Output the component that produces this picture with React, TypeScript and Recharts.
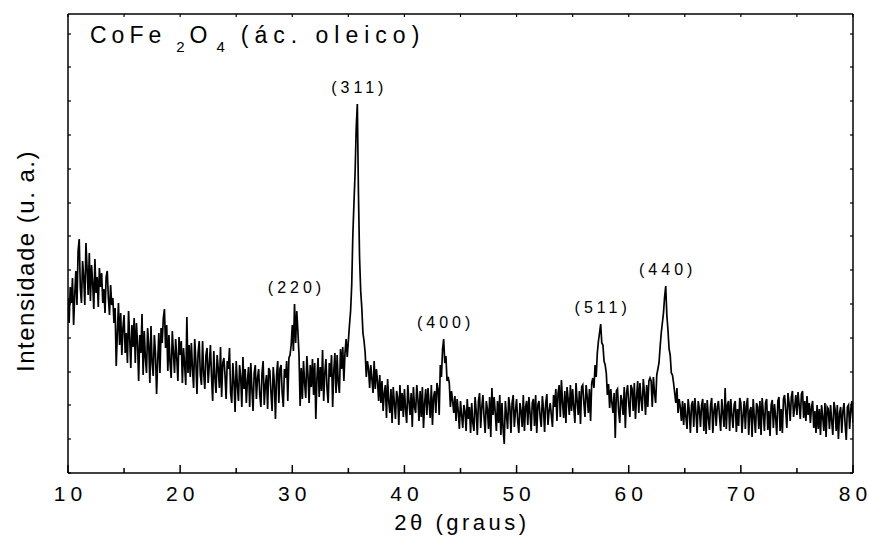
import React from 'react';
import { LineChart, Line, XAxis, YAxis, ReferenceDot } from 'recharts';

// diffractogram, 2θ = 10.0 ... 80.0 step 0.1, intensity in a.u.
const counts10 = [
  175, 150, 186, 170, 195, 148, 178, 202, 168, 222,
  234, 185, 170, 212, 196, 168, 230, 205, 178, 220,
  172, 208, 190, 164, 214, 180, 196, 166, 205, 186,
  200, 170, 184, 160, 196, 202, 175, 158, 188, 168,
  175, 150, 165, 107, 140, 170, 128, 160, 118, 145,
  158, 120, 140, 110, 162, 135, 105, 148, 126, 155,
  110, 150, 130, 92, 138, 120, 159, 98, 142, 115,
  100, 145, 128, 90, 147, 110, 97, 138, 120, 79,
  112, 140, 100, 145, 130, 155, 164, 125, 148, 102,
  138, 110, 95, 142, 120, 100, 134, 115, 92, 136,
];
const counts20 = [
  118, 132, 90, 125, 108, 88, 156, 100, 128, 96,
  130, 104, 85, 134, 112, 79, 120, 132, 98, 88,
  132, 100, 84, 118, 125, 90, 108, 128, 96, 72,
  122, 95, 80, 118, 104, 85, 126, 76, 110, 115,
  98, 74, 112, 104, 125, 80, 70, 110, 92, 61,
  112, 88, 72, 108, 96, 66, 116, 84, 104, 70,
  92, 106, 66, 110, 84, 62, 100, 108, 74, 95,
  104, 78, 66, 100, 112, 68, 88, 98, 64, 105,
  102, 80, 62, 106, 90, 54, 98, 112, 70, 104,
  108, 80, 66, 104, 95, 112, 72, 115, 118, 128,
];
const counts30 = [
  148, 122, 169, 130, 162, 142, 118, 67, 105, 74,
  112, 90, 75, 117, 98, 70, 108, 86, 114, 78,
  110, 54, 95, 115, 76, 106, 82, 123, 72, 100,
  114, 84, 70, 110, 96, 118, 66, 102, 120, 80,
  118, 90, 80, 124, 104, 126, 92, 120, 134, 116,
  132, 148, 162, 188, 238, 270, 300, 345, 369, 280,
  215, 182, 165, 140, 132, 120, 96, 112, 104, 85,
  108, 94, 80, 112, 84, 104, 92, 72, 98, 70,
  92, 62, 80, 88, 55, 94, 72, 60, 84, 50,
  86, 70, 54, 82, 76, 48, 88, 62, 80, 56,
];
const counts40 = [
  84, 64, 50, 88, 72, 58, 80, 46, 86, 66,
  60, 88, 74, 52, 82, 56, 86, 45, 70, 84,
  58, 85, 70, 55, 88, 48, 76, 82, 60, 90,
  84, 58, 108, 96, 124, 134, 110, 117, 92, 96,
  90, 66, 82, 72, 60, 77, 52, 74, 62, 44,
  72, 58, 45, 68, 62, 42, 74, 54, 66, 40,
  70, 50, 42, 76, 62, 38, 72, 80, 45, 66,
  78, 56, 40, 72, 64, 44, 76, 36, 85, 58,
  76, 60, 42, 72, 50, 78, 38, 70, 44, 29,
  72, 58, 44, 76, 66, 40, 70, 78, 46, 62,
];
const counts50 = [
  74, 52, 40, 70, 62, 46, 78, 42, 66, 72,
  48, 76, 60, 42, 70, 74, 47, 78, 40, 68,
  72, 56, 46, 77, 64, 41, 70, 79, 48, 62,
  70, 58, 46, 78, 66, 84, 52, 80, 88, 56,
  93, 70, 55, 82, 50, 86, 74, 58, 88, 62,
  84, 66, 50, 90, 72, 58, 82, 49, 86, 88,
  70, 56, 88, 76, 60, 84, 52, 90, 95, 85,
  108, 96, 120, 132, 140, 149, 130, 128, 112, 108,
  100, 78, 89, 65, 84, 70, 60, 80, 35, 82,
  84, 62, 50, 78, 72, 58, 86, 45, 80, 88,
];
const counts60 = [
  70, 56, 88, 84, 62, 90, 54, 76, 92, 60,
  90, 74, 62, 94, 80, 58, 88, 66, 92, 95,
  92, 66, 96, 80, 70, 98, 104, 110, 126, 140,
  150, 160, 176, 187, 158, 143, 124, 118, 100, 98,
  90, 80, 70, 85, 60, 74, 66, 52, 72, 48,
  70, 56, 44, 74, 62, 40, 68, 72, 46, 75,
  60, 40, 72, 64, 46, 68, 74, 42, 70, 39,
  73, 55, 43, 68, 75, 40, 62, 70, 47, 66,
  72, 56, 42, 74, 60, 46, 85, 44, 68, 72,
  42, 74, 58, 45, 68, 72, 41, 64, 47, 75,
];
const counts70 = [
  70, 40, 58, 72, 44, 68, 75, 38, 62, 66,
  36, 74, 56, 40, 70, 66, 44, 72, 38, 75,
  60, 42, 70, 74, 43, 62, 37, 68, 73, 45,
  69, 56, 38, 72, 76, 42, 64, 40, 74, 78,
  62, 45, 80, 70, 52, 76, 82, 56, 66, 78,
  58, 81, 68, 54, 79, 82, 55, 72, 52, 77,
  58, 70, 50, 66, 72, 45, 62, 40, 68, 44,
  64, 38, 68, 56, 42, 70, 36, 66, 64, 44,
  68, 52, 38, 71, 64, 42, 68, 34, 60, 66,
  40, 62, 70, 48, 33, 66, 68, 44, 64, 72,
  50,
];

const START = 10;
const STEP = 0.1;

const xTicks = [10, 15, 20, 25, 30, 35, 40, 45, 50, 55, 60, 65, 70, 75, 80];
const yTicks = [0, 34, 68, 101, 135, 169, 203, 237, 270, 304, 338, 372, 406, 439];

const peakHkl = ['(220)', '(311)', '(400)', '(511)', '(440)'];
const peakAngle = [30.2, 35.8, 43.5, 57.5, 63.3];
const peakTop = [169, 369, 134, 149, 187];

const data = [counts10, counts20, counts30, counts40, counts50, counts60, counts70]
  .flat()
  .map((v, i) => ({ angle: Math.round((START + i * STEP) * 10) / 10, intensity: v }));

const FONT = '"Liberation Sans", Arial, sans-serif';

const BottomTick = (props: any) => {
  const { x, y, payload } = props;
  const major = payload.value % 10 === 0;
  const s = String(payload.value);
  return (
    <g>
      <line x1={x} x2={x} y1={y} y2={y - (major ? 8 : 5)} stroke="#000" strokeWidth={1.5} />
      {major && (
        <text x={x} y={y + 28} textAnchor="middle" fontSize={21} fontFamily={FONT} fill="#000">
          <tspan letterSpacing={5}>{s.slice(0, -1)}</tspan>
          <tspan>{s.slice(-1)}</tspan>
        </text>
      )}
    </g>
  );
};

const TopTick = (props: any) => {
  const { x, y } = props;
  return <line x1={x} x2={x} y1={y} y2={y + 3} stroke="#000" strokeWidth={1.2} />;
};

const LeftTick = (props: any) => {
  const { x, y } = props;
  return <line x1={x} x2={x + 3} y1={y} y2={y} stroke="#000" strokeWidth={1.2} />;
};

const RightTick = (props: any) => {
  const { x, y } = props;
  return <line x1={x} x2={x - 3} y1={y} y2={y} stroke="#000" strokeWidth={1.2} />;
};

const PeakText = ({ cx, cy, text }: any) => (
  <text x={cx} y={cy - 11} dx={2} textAnchor="middle" fontSize={16} letterSpacing={4}
    fontFamily={FONT} fill="#000">
    {text}
  </text>
);

export default function App() {
  const axisLine = { stroke: '#000', strokeWidth: 1.5 };
  return (
    <div style={{ position: 'absolute', left: 0, top: 0, width: 869, height: 541, background: '#fff' }}>
      <LineChart width={869} height={541} data={data}
        margin={{ top: 4, right: 6, bottom: 58, left: 58 }}>
        <XAxis dataKey="angle" type="number" domain={[10, 80]} ticks={xTicks} interval={0}
          height={10} tickSize={0} tickMargin={0} tickLine={false} axisLine={axisLine}
          tick={<BottomTick />} allowDataOverflow />
        <XAxis xAxisId="top" orientation="top" dataKey="angle" type="number" domain={[10, 80]}
          ticks={xTicks} interval={0} height={10} tickSize={0} tickMargin={0} tickLine={false}
          axisLine={axisLine} tick={<TopTick />} allowDataOverflow />
        <YAxis type="number" domain={[0, 459]} ticks={yTicks} interval={0} width={10}
          tickSize={0} tickMargin={0} tickLine={false} axisLine={axisLine}
          tick={<LeftTick />} allowDataOverflow />
        <YAxis yAxisId="right" orientation="right" type="number" domain={[0, 459]} ticks={yTicks}
          interval={0} width={10} tickSize={0} tickMargin={0} tickLine={false} axisLine={axisLine}
          tick={<RightTick />} allowDataOverflow />
        <Line type="linear" dataKey="intensity" stroke="#000" strokeWidth={1.7} dot={false}
          activeDot={false} isAnimationActive={false} />
        {peakHkl.map((hkl, i) => (
          <ReferenceDot key={hkl} x={peakAngle[i]} y={peakTop[i]} r={0} ifOverflow="visible"
            shape={(p: any) => <PeakText cx={p.cx} cy={p.cy} text={hkl} />} />
        ))}
      </LineChart>
      <svg width={869} height={541} style={{ position: 'absolute', left: 0, top: 0, pointerEvents: 'none' }}>
        <text x={90} y={43} fontSize={23} letterSpacing={5} fontFamily={FONT} fill="#000">
          CoFe
          <tspan dx={10} dy={9} fontSize={15}>2</tspan>
          <tspan dy={-9}>O</tspan>
          <tspan dx={4} dy={9} fontSize={15}>4</tspan>
          <tspan dx={11} dy={-9} letterSpacing={6}>(ác. oleico)</tspan>
        </text>
        <text x={462} y={530} textAnchor="middle" fontSize={22} letterSpacing={3.5}
          fontFamily={FONT} fill="#000">
          2θ (graus)
        </text>
        <text transform="translate(34,261) rotate(-90)" textAnchor="middle" fontSize={24}
          letterSpacing={1.5} fontFamily={FONT} fill="#000">
          Intensidade (u. a.)
        </text>
      </svg>
    </div>
  );
}
